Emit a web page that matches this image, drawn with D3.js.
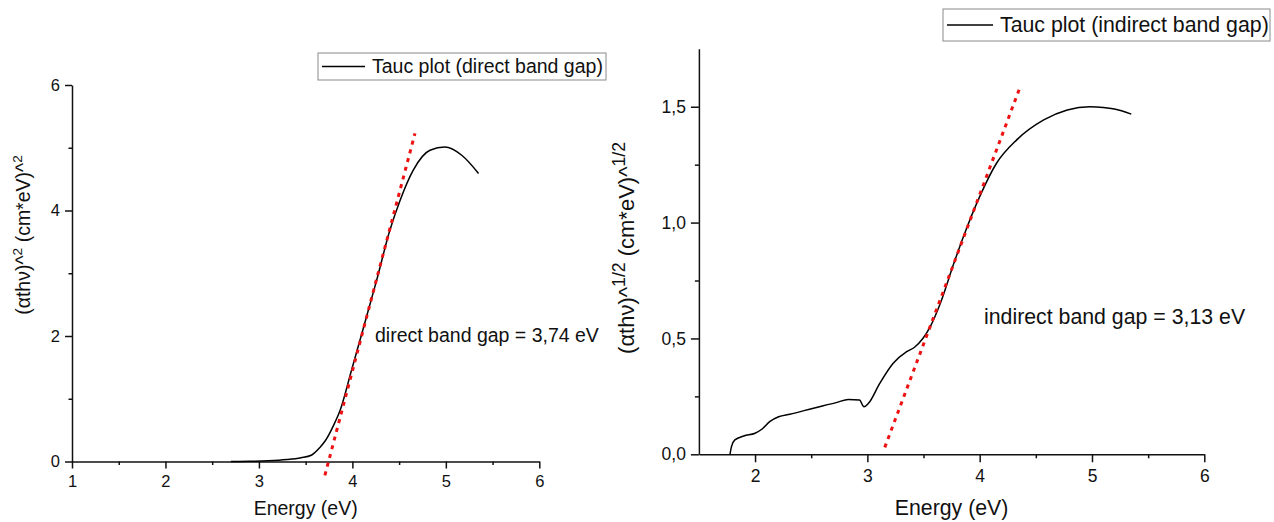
<!DOCTYPE html>
<html>
<head>
<meta charset="utf-8">
<script src="https://cdn.jsdelivr.net/npm/d3@7"></script>
<style>
  body { margin: 0; background: #fff; }
  svg { display: block; font-family: "Liberation Sans", Arial, sans-serif; }
</style>
</head>
<body>
<div id="my_dataviz"></div>
<script>
// data
var directX = [2.7, 2.9, 3.1, 3.3, 3.45, 3.56, 3.65, 3.71, 3.8, 3.87, 3.99, 4.12, 4.26, 4.40, 4.51, 4.65, 4.83, 4.99, 5.17, 5.35];
var directY = [0, 0.003, 0.01, 0.03, 0.06, 0.1, 0.22, 0.33, 0.58, 0.82, 1.45, 2.14, 2.89, 3.68, 4.16, 4.64, 4.96, 5.01, 4.88, 4.59];
var directFitX = [3.706, 4.67];
var directFitY = [-0.22, 5.23];

var indirectX = [1.777, 1.79, 1.82, 1.9, 2.0, 2.06, 2.13, 2.21, 2.31, 2.52, 2.73, 2.83, 2.93, 2.97, 3.01, 3.11, 3.23, 3.35, 3.42, 3.56, 3.65, 3.77, 3.855, 4.0, 4.15, 4.33, 4.57, 4.78, 4.98, 5.1, 5.2, 5.35];
var indirectY = [0, 0.033, 0.062, 0.079, 0.091, 0.108, 0.141, 0.162, 0.173, 0.199, 0.224, 0.237, 0.234, 0.205, 0.22, 0.306, 0.393, 0.443, 0.462, 0.551, 0.652, 0.824, 0.939, 1.112, 1.256, 1.357, 1.443, 1.486, 1.50, 1.497, 1.49, 1.468];
var indirectFitX = [3.155, 4.36];
var indirectFitY = [0.03, 1.585];

var directXTicks = [1, 2, 3, 4, 5, 6];
var directYTicks = [0, 2, 4, 6];
var indirectXTicks = [2, 3, 4, 5, 6];
var indirectYTicks = [0, 0.5, 1.0, 1.5];

var legendLabels = ["Tauc plot (direct band gap)", "Tauc plot (indirect band gap)"];
var gapNotes = ["direct band gap = 3,74 eV", "indirect band gap = 3,13 eV"];

var svg = d3.select("#my_dataviz")
    .append("svg")
    .attr("width", 1274)
    .attr("height", 522);

function zip(xs, ys) {
    return xs.map(function (x, i) { return [x, ys[i]]; });
}

function drawPanel(p) {
    var x = d3.scaleLinear().domain(p.xDomain).range(p.xRange);
    var y = d3.scaleLinear().domain(p.yDomain).range(p.yRange);
    var g = svg.append("g");
    var ink = "#111";

    // minor ticks first (no labels)
    g.append("g")
        .attr("transform", "translate(0," + y(0) + ")")
        .call(d3.axisBottom(x).tickValues(p.xMinor).tickSize(p.tick / 2).tickFormat(""))
        .call(function (a) { a.select(".domain").remove(); });
    g.append("g")
        .attr("transform", "translate(" + p.xRange[0] + ",0)")
        .call(d3.axisLeft(y).tickValues(p.yMinor).tickSize(p.tick / 2).tickFormat(""))
        .call(function (a) { a.select(".domain").remove(); });

    // main axes
    g.append("g")
        .attr("transform", "translate(0," + y(0) + ")")
        .call(d3.axisBottom(x).tickValues(p.xTicks).tickSizeInner(p.tick).tickSizeOuter(0).tickPadding(7).tickFormat(d3.format("d")));
    g.append("g")
        .attr("transform", "translate(" + p.xRange[0] + ",0)")
        .call(d3.axisLeft(y).tickValues(p.yTicks).tickSizeInner(p.tick).tickSizeOuter(0).tickPadding(5).tickFormat(p.yFormat));

    g.selectAll(".domain, .tick line").attr("stroke", ink).attr("stroke-width", 1.5);
    g.selectAll(".tick text").attr("fill", ink).style("font-size", p.tickFont + "px");

    // curve
    g.append("path")
        .datum(zip(p.cx, p.cy))
        .attr("fill", "none")
        .attr("stroke", "#000")
        .attr("stroke-width", 1.5)
        .attr("d", d3.line().curve(d3.curveMonotoneX)
            .x(function (d) { return x(d[0]); })
            .y(function (d) { return y(d[1]); }));

    // linear fit, red dotted
    g.append("path")
        .datum(zip(p.fx, p.fy))
        .attr("fill", "none")
        .attr("stroke", "#ee1111")
        .attr("stroke-width", 3)
        .attr("stroke-dasharray", "4,5")
        .attr("d", d3.line()
            .x(function (d) { return x(d[0]); })
            .y(function (d) { return y(d[1]); }));

    // x title
    g.append("text")
        .attr("x", (p.xRange[0] + p.xRange[1]) / 2)
        .attr("y", p.xTitleY)
        .attr("text-anchor", "middle")
        .attr("fill", ink)
        .style("font-size", p.font + "px")
        .text("Energy (eV)");

    // y title with superscripts
    var yt = g.append("text")
        .attr("transform", "translate(" + p.yTitle[0] + "," + p.yTitle[1] + ") rotate(-90)")
        .attr("text-anchor", "middle")
        .attr("fill", ink)
        .style("font-size", p.titleFont + "px");
    yt.append("tspan").text("(\u03b1th\u03bd)^");
    yt.append("tspan").attr("dy", -p.titleFont * 0.4).style("font-size", p.supSize).text(p.power);
    yt.append("tspan").attr("dy", p.titleFont * 0.4).text(" (cm*eV)^");
    yt.append("tspan").attr("dy", -p.titleFont * 0.4).style("font-size", p.supSize).text(p.power);

    // legend
    var lg = g.append("g");
    lg.append("rect")
        .attr("x", p.legend[0]).attr("y", p.legend[1])
        .attr("width", p.legend[2]).attr("height", p.legend[3])
        .attr("fill", "#fff").attr("stroke", "#8a8a8a").attr("stroke-width", 1);
    var ly = p.legend[1] + p.legend[3] / 2;
    lg.append("line")
        .attr("x1", p.legend[0] + 4).attr("x2", p.legend[0] + 4 + p.sample)
        .attr("y1", ly).attr("y2", ly)
        .attr("stroke", "#000").attr("stroke-width", 1.5);
    lg.append("text")
        .attr("x", p.legend[0] + 11 + p.sample)
        .attr("y", ly)
        .attr("dy", "0.35em")
        .attr("fill", ink)
        .style("font-size", p.font + "px")
        .text(p.legendText);

    // band gap note
    g.append("text")
        .attr("x", p.note[0]).attr("y", p.note[1])
        .attr("dy", "0.35em")
        .attr("fill", ink)
        .style("font-size", p.font + "px")
        .text(p.noteText);
}

var commaFmt = function (d) { return d3.format(".1f")(d).replace(".", ","); };

drawPanel({
    xDomain: [1, 6], xRange: [72, 539.3],
    yDomain: [0, 6], yRange: [461.5, 85],
    xTicks: directXTicks, xMinor: [1.5, 2.5, 3.5, 4.5, 5.5],
    yTicks: directYTicks, yMinor: [1, 3, 5],
    yFormat: d3.format("d"),
    tick: 7, tickFont: 16.5, font: 19.5, titleFont: 19.5, supSize: "70%",
    cx: directX, cy: directY, fx: directFitX, fy: directFitY,
    xTitleY: 515, yTitle: [30, 235], power: "2",
    legend: [318, 53, 288, 27], sample: 43, legendText: legendLabels[0],
    note: [375, 335], noteText: gapNotes[0]
});

drawPanel({
    xDomain: [1.5, 6], xRange: [698.9, 1204.3],
    yDomain: [0, 1.75], yRange: [454.3, 48.8],
    xTicks: indirectXTicks, xMinor: [2.5, 3.5, 4.5, 5.5],
    yTicks: indirectYTicks, yMinor: [0.25, 0.75, 1.25],
    yFormat: commaFmt,
    tick: 8, tickFont: 17.5, font: 21.3, titleFont: 22, supSize: "80%",
    cx: indirectX, cy: indirectY, fx: indirectFitX, fy: indirectFitY,
    xTitleY: 515, yTitle: [634, 248], power: "1/2",
    legend: [943, 9, 327, 32], sample: 46, legendText: legendLabels[1],
    note: [984, 317], noteText: gapNotes[1]
});
</script>
</body>
</html>
